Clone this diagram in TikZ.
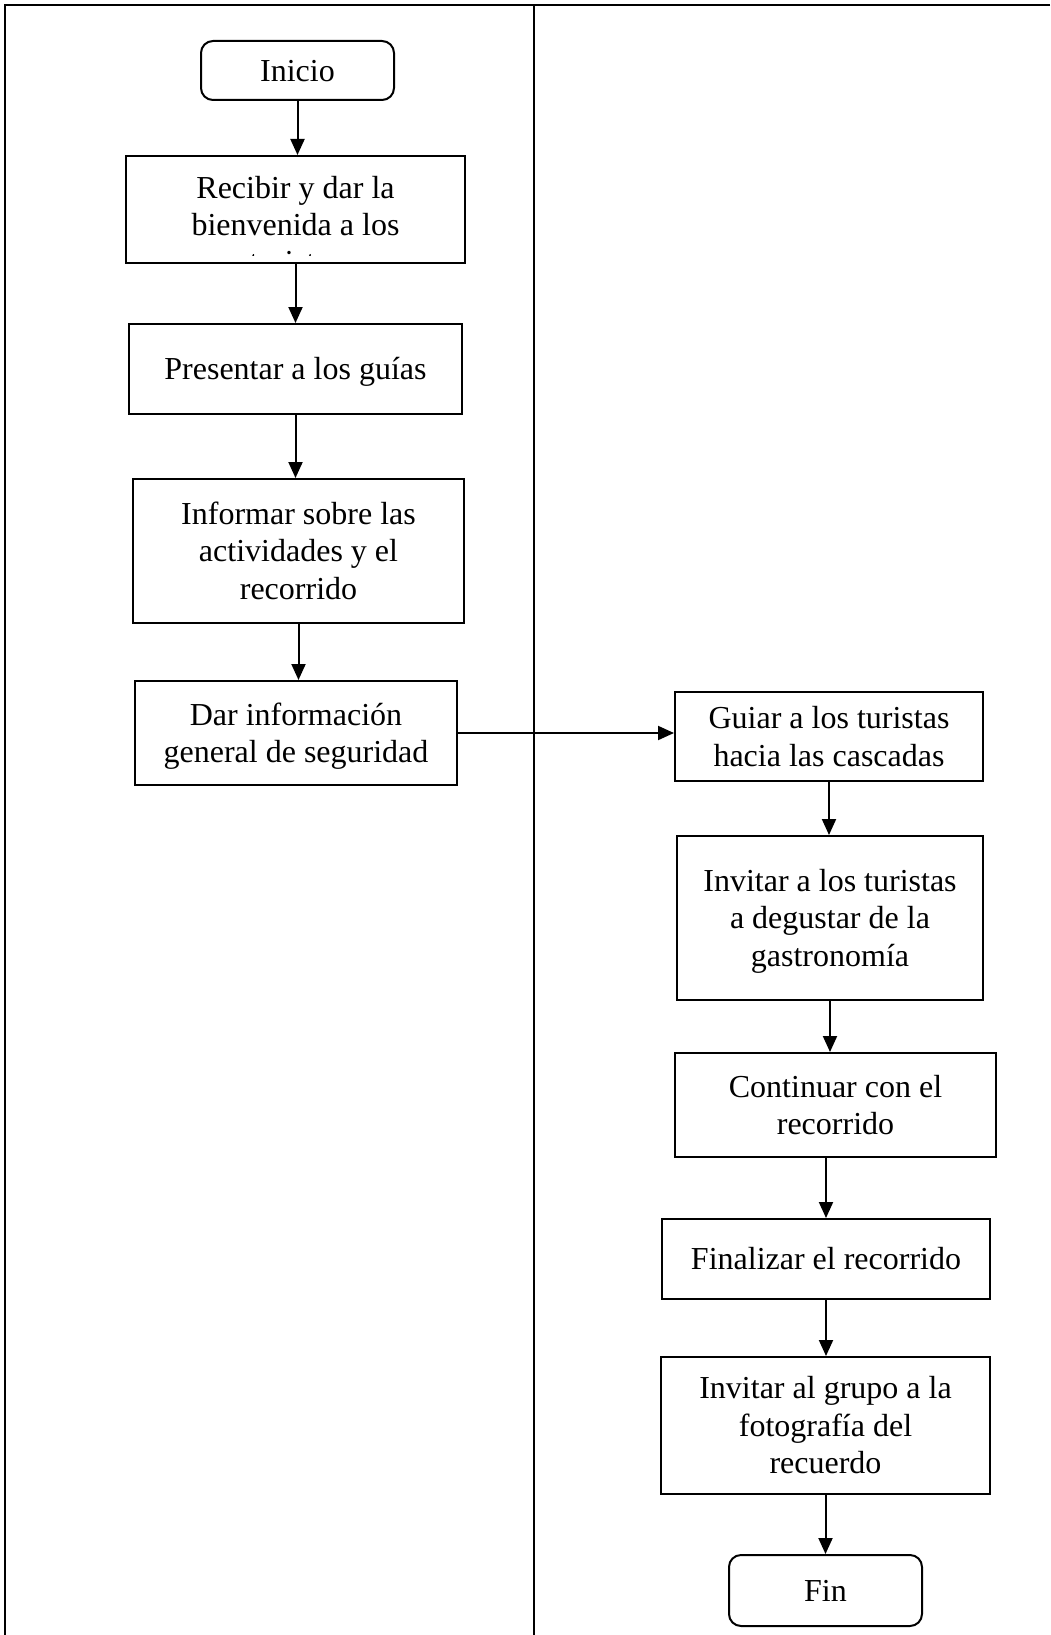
\documentclass[tikz,border=0pt]{standalone}
\usepackage{fontspec}
\setmainfont{Liberation Serif}
\usetikzlibrary{arrows.meta}

\tikzset{
    box/.style={draw, line width=2pt, align=center, inner sep=0pt, text height=28.5pt, text depth=7pt},
    twolines/.style={text height=66pt},
    threelines/.style={text height=103.5pt},
    term/.style={box, rounded corners=12pt},
    arr/.style={line width=2pt, -{Triangle[length=16pt,width=14pt]}},
    rule/.style={line width=2.5pt, line join=miter}
}

\begin{document}
\begin{tikzpicture}[x=1pt, y=-1pt, font=\fontsize{32}{37.5}\selectfont]
        \useasboundingbox (0,0) rectangle (1050,1635);
        \draw[rule] (1050,5) -- (5,5) -- (5,1635);
        \draw[rule] (534,5) -- (534,1635);

        \node[term, minimum width=193pt, minimum height=59pt] (ini) at (297.5,70.5) {Inicio};
        \node[box, minimum width=339pt, minimum height=107pt, text height=59pt] (b1) at (295.5,209.5) {Recibir y dar la\\bienvenida a los};
        \node[box, minimum width=333pt, minimum height=90pt] (b2) at (295.5,369) {Presentar a los guías};
        \node[box, threelines, minimum width=331pt, minimum height=144pt] (b3) at (298.5,551) {Informar sobre las\\actividades y el\\recorrido};
        \node[box, twolines, minimum width=322pt, minimum height=104pt] (b4) at (296,733) {Dar información\\general de seguridad};

        \node[box, twolines, minimum width=308pt, minimum height=89pt] (b5) at (829,736.5) {Guiar a los turistas\\hacia las cascadas};
        \node[box, threelines, minimum width=306pt, minimum height=164pt] (b6) at (830,918) {Invitar a los turistas\\a degustar de la\\gastronomía};
        \node[box, twolines, minimum width=321pt, minimum height=104pt] (b7) at (835.5,1105) {Continuar con el\\recorrido};
        \node[box, minimum width=328pt, minimum height=80pt] (b8) at (826,1259) {Finalizar el recorrido};
        \node[box, threelines, minimum width=329pt, minimum height=137pt] (b9) at (825.5,1425.5) {Invitar al grupo a la\\fotografía del\\recuerdo};
        \node[term, minimum width=193pt, minimum height=71pt] (fin) at (825.5,1590.5) {Fin};

        \begin{scope}
            \clip (b1.north west) rectangle ([yshift=9pt]b1.south east);
            \node[anchor=base] (b1x) at (295.5,272) {turistas};
        \end{scope}

        \foreach \a/\b in {ini/b1, b1/b2, b2/b3, b3/b4, b5/b6, b6/b7, b8/b9, b9/fin}
        {
            \draw[arr] (\a.south) -- (\a.south |- \b.north);
        }
        \draw[arr] (b7.south -| b8) -- (b8.north);
        \draw[arr] (b4.east) -- (b4.east -| b5.west);
    \end{tikzpicture}
\end{document}
